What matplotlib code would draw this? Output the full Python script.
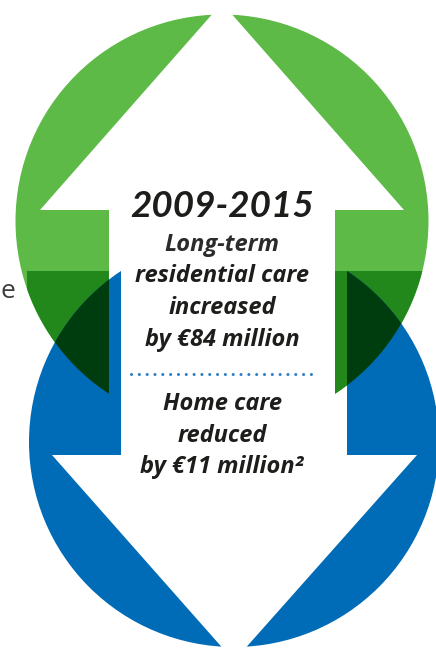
import numpy as np
import matplotlib
matplotlib.use("Agg")
import matplotlib.pyplot as plt
from matplotlib.patches import Circle, PathPatch
from matplotlib.path import Path
from matplotlib.transforms import Bbox

# text content of the graphic
PERIOD = "2009-2015"
UP_LINES = ["Long-term", "residential care", "increased"]
UP_AMOUNT_EUR_M = 84
DOWN_LINES = ["Home care", "reduced"]
DOWN_AMOUNT_EUR_M = 11
DOWN_NOTE = "²"

W, H = 436, 649

GREEN = "#5dba47"
DARK_GREEN = "#23881b"
DEEP_GREEN = "#003d0e"
BLUE = "#006bb6"
DOTS = "#2a7dc6"
INK = "#1d1d1b"

FONT = ["Open Sans", "DejaVu Sans"]
YEAR_FONT = ["Lato", "DejaVu Sans"]


def circle_path(cx, cy, r, n=720):
    t = np.linspace(0, 2 * np.pi, n, endpoint=False)
    pts = np.column_stack([cx + r * np.cos(t), cy + r * np.sin(t)])
    return Path(np.vstack([pts, pts[:1]]), closed=True)


def signed_area(p):
    x, y = p[:, 0], p[:, 1]
    return 0.5 * np.sum(x * np.roll(y, -1) - np.roll(x, -1) * y)


def outside_of(poly):
    # big rectangle with `poly` cut out as a hole
    outer = np.array([(-100, -100), (W + 100, -100), (W + 100, H + 100), (-100, H + 100)], float)
    inner = np.asarray(poly, float)
    if np.sign(signed_area(outer)) == np.sign(signed_area(inner)):
        inner = inner[::-1]
    verts = np.vstack([outer, outer[:1], inner, inner[:1]])
    codes = ([Path.MOVETO] + [Path.LINETO] * 3 + [Path.CLOSEPOLY]
             + [Path.MOVETO] + [Path.LINETO] * (len(inner) - 1) + [Path.CLOSEPOLY])
    return Path(verts, codes)


def main():
    fig = plt.figure(figsize=(W / 100, H / 100), dpi=100)
    ax = fig.add_axes([0, 0, 1, 1])
    ax.set_xlim(0, W)
    ax.set_ylim(H, 0)
    ax.axis("off")

    g_c, g_r = (222, 221), 206.5
    b_c, b_r = (234, 442), 205

    up_arrow = [(222, 3), (404, 210), (335, 210), (335, 470), (109, 470), (109, 210), (40, 210)]
    down_arrow = [(121, 200), (347, 200), (347, 455), (417, 455), (234, 661), (52, 455), (121, 455)]

    g_clip = Circle(g_c, g_r, transform=ax.transData)
    not_up = PathPatch(outside_of(up_arrow), transform=ax.transData)
    not_down = PathPatch(outside_of(down_arrow), transform=ax.transData)

    # green disc with the up arrow cut out
    green = Circle(g_c, g_r, facecolor=GREEN, edgecolor="none")
    green.set_clip_path(not_up)
    ax.add_patch(green)

    # green darkened where it sits over the blue graphic's box
    g_path = circle_path(*g_c, g_r)
    for x0, x1 in [(27, 109), (335, W + 10)]:
        part = g_path.clip_to_bbox(Bbox.from_extents(x0, 271, x1, H + 10))
        ax.add_patch(PathPatch(part, facecolor=DARK_GREEN, edgecolor="none"))

    # blue disc with the down arrow cut out
    blue = Circle(b_c, b_r, facecolor=BLUE, edgecolor="none")
    blue.set_clip_path(not_down)
    ax.add_patch(blue)

    # overlap of both discs
    b_path = circle_path(*b_c, b_r)
    for x0, x1 in [(0, 109), (347, W + 10)]:
        part = b_path.clip_to_bbox(Bbox.from_extents(x0, 271, x1, H + 10))
        p = PathPatch(part, facecolor=DEEP_GREEN, edgecolor="none")
        p.set_clip_path(g_clip)
        ax.add_patch(p)

    # texts
    cx = 222
    ax.text(cx, 217, PERIOD, ha="center", va="baseline", fontsize=26.5,
            fontweight="bold", fontstyle="italic", family=YEAR_FONT, color=INK)

    up = UP_LINES + [f"by €{UP_AMOUNT_EUR_M} million"]
    for i, line in enumerate(up):
        ax.text(cx, 251 + i * 31.5, line, ha="center", va="baseline", fontsize=17,
                fontweight="bold", fontstyle="italic", family=FONT,
                color="#2b2b2b" if i == 0 else INK)

    ax.plot([131, 313], [374, 374], color=DOTS, lw=2.2, ls=(0, (0.01, 2.55)),
            dash_capstyle="round", solid_capstyle="round")

    down = DOWN_LINES + [f"by €{DOWN_AMOUNT_EUR_M} million{DOWN_NOTE}"]
    for i, line in enumerate(down):
        ax.text(cx, 410 + i * 31.5, line, ha="center", va="baseline", fontsize=17,
                fontweight="bold", fontstyle="italic", family=FONT, color=INK)

    # word cut by the left edge, from the neighbouring panel
    ax.text(0, 298, "e", ha="left", va="baseline", fontsize=19, family=FONT, color="#3c3c3c")

    fig.savefig("out.png", dpi=100)


if __name__ == "__main__":
    main()
